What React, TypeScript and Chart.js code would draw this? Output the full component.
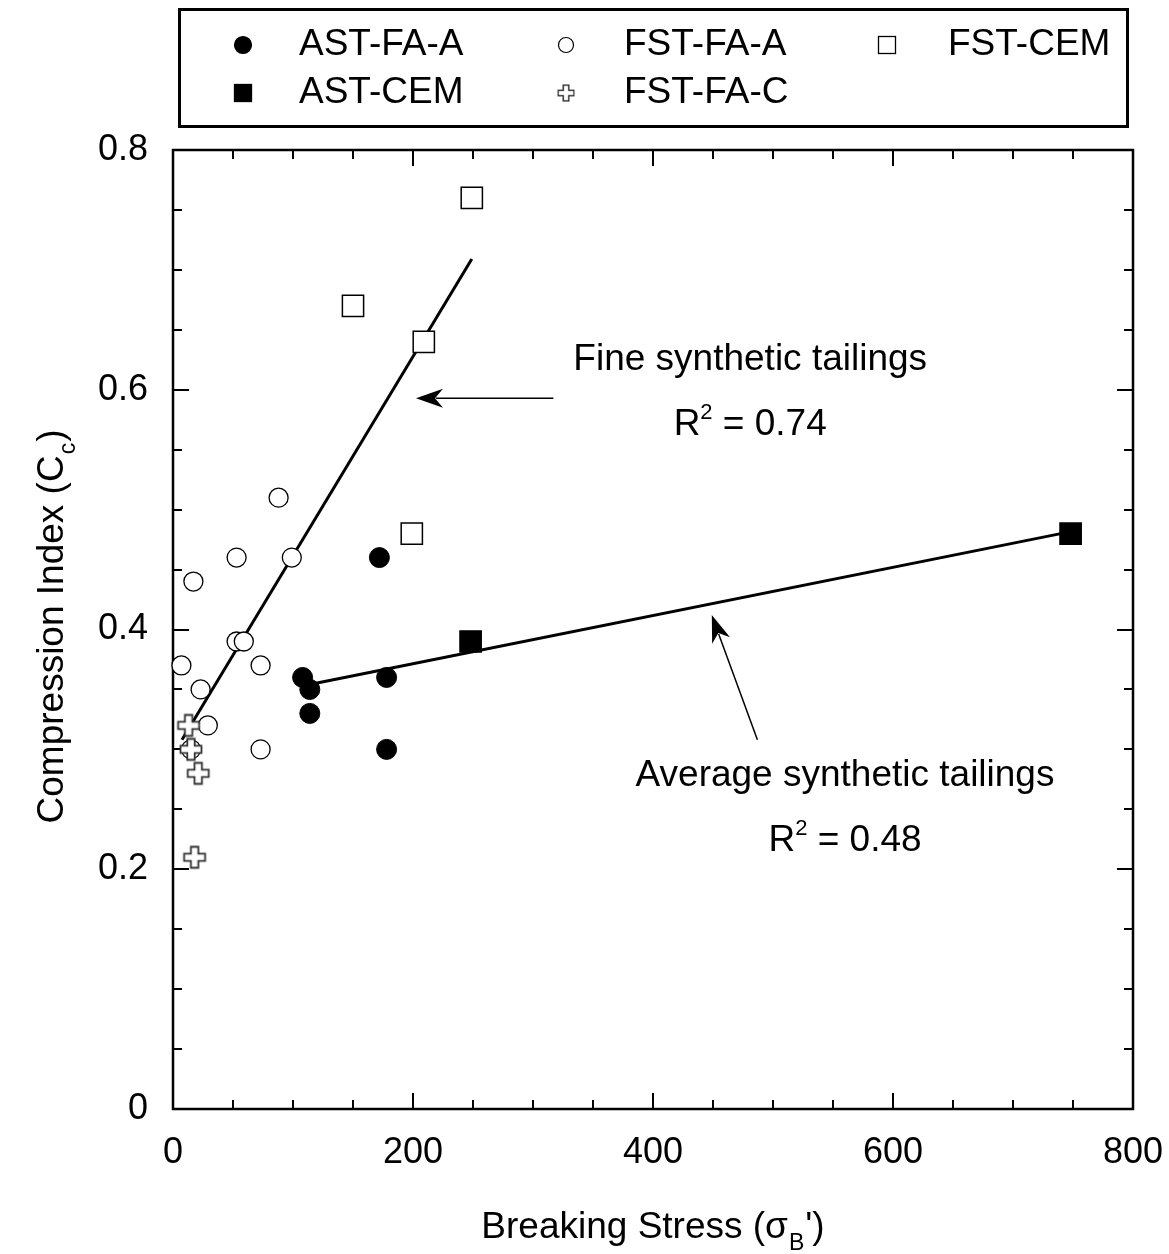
import React, { useEffect, useRef } from 'react';
import { Chart, registerables } from 'chart.js';

Chart.register(...registerables);

// ---------------- data ----------------
const astFaAX = [108, 114, 114, 178, 178, 172];
const astFaAY = [0.36, 0.35, 0.33, 0.36, 0.30, 0.46];

const astCemX = [248, 748];
const astCemY = [0.39, 0.48];

const fstFaAX = [7, 17, 23, 29, 53, 53, 59, 73, 73, 88, 99, 15];
const fstFaAY = [0.37, 0.44, 0.35, 0.32, 0.46, 0.39, 0.39, 0.37, 0.30, 0.51, 0.46, 0.30];

const fstFaCX = [13, 15, 21, 18];
const fstFaCY = [0.32, 0.30, 0.28, 0.21];

const fstCemX = [249, 150, 209, 199];
const fstCemY = [0.76, 0.67, 0.64, 0.48];

const fineFitX = [7.5, 249];
const fineFitY = [0.308, 0.709];

const avgFitX = [118, 745];
const avgFitY = [0.355, 0.481];

const xMin = 0, xMax = 800, xMajor = 200, xMinor = 50;
const yMin = 0, yMax = 0.8, yMajor = 0.2, yMinor = 0.05;

const xTitleMain = 'Breaking Stress (\u03C3';
const xTitleSub = 'B';
const xTitleEnd = "')";
const yTitleMain = 'Compression Index (C';
const yTitleSub = 'c';
const yTitleEnd = ')';

const fineLabel = 'Fine synthetic tailings';
const fineR2 = '0.74';
const avgLabel = 'Average synthetic tailings';
const avgR2 = '0.48';

// annotation anchors (data coordinates)
const fineTextPos = { x: 481, y: 0.625 };
const fineR2Pos = { x: 481, y: 0.573 };
const fineArrow = { x1: 317, y1: 0.593, x2: 202.5, y2: 0.593 };
const avgTextPos = { x: 560, y: 0.278 };
const avgR2Pos = { x: 560, y: 0.226 };
const avgArrow = { x1: 487, y1: 0.308, x2: 449, y2: 0.412 };

const FONT = '"Liberation Sans", Arial, Helvetica, sans-serif';

const mk = (xs: number[], ys: number[]) => xs.map((x, i) => ({ x, y: ys[i] }));

function makeCross(scale: number) {
  const c = document.createElement('canvas');
  const s = Math.round(26 * scale);
  c.width = s;
  c.height = s;
  const g = c.getContext('2d')!;
  const cx = s / 2, cy = s / 2;
  const a = 3.7 * scale, b = 10.5 * scale;
  const pts = [
    [-a, -b], [a, -b], [a, -a], [b, -a], [b, a], [a, a],
    [a, b], [-a, b], [-a, a], [-b, a], [-b, -a], [-a, -a],
  ];
  g.beginPath();
  pts.forEach(([px, py], i) => (i ? g.lineTo(cx + px, cy + py) : g.moveTo(cx + px, cy + py)));
  g.closePath();
  g.fillStyle = '#fff';
  g.fill();
  g.strokeStyle = '#333';
  g.lineWidth = 1.8;
  g.stroke();
  return c;
}

function drawArrowHead(ctx: CanvasRenderingContext2D, x1: number, y1: number, x2: number, y2: number) {
  const ang = Math.atan2(y2 - y1, x2 - x1);
  const L = 27, W = 9.5, N = 19;
  ctx.save();
  ctx.translate(x2, y2);
  ctx.rotate(ang);
  ctx.beginPath();
  ctx.moveTo(0, 0);
  ctx.lineTo(-L, -W);
  ctx.lineTo(-N, 0);
  ctx.lineTo(-L, W);
  ctx.closePath();
  ctx.fillStyle = '#000';
  ctx.fill();
  ctx.restore();
}

function drawR2(ctx: CanvasRenderingContext2D, val: string, cx: number, cy: number) {
  ctx.textBaseline = 'alphabetic';
  ctx.textAlign = 'left';
  ctx.font = `37px ${FONT}`;
  const wR = ctx.measureText('R').width;
  const rest = ' = ' + val;
  const wRest = ctx.measureText(rest).width;
  ctx.font = `22px ${FONT}`;
  const w2 = ctx.measureText('2').width;
  const total = wR + w2 + wRest;
  let x = cx - total / 2;
  const base = cy + 13;
  ctx.font = `37px ${FONT}`;
  ctx.fillText('R', x, base);
  x += wR;
  ctx.font = `22px ${FONT}`;
  ctx.fillText('2', x, base - 16);
  x += w2;
  ctx.font = `37px ${FONT}`;
  ctx.fillText(rest, x, base);
}

function drawTitleParts(ctx: CanvasRenderingContext2D, main: string, sub: string, end: string, cx: number, base: number) {
  ctx.textAlign = 'left';
  ctx.textBaseline = 'alphabetic';
  ctx.font = `37px ${FONT}`;
  const w1 = ctx.measureText(main).width;
  const w3 = ctx.measureText(end).width;
  ctx.font = `23px ${FONT}`;
  const w2 = ctx.measureText(sub).width;
  let x = cx - (w1 + w2 + w3 + 2) / 2;
  ctx.font = `37px ${FONT}`;
  ctx.fillText(main, x, base);
  x += w1 + 1;
  ctx.font = `23px ${FONT}`;
  ctx.fillText(sub, x, base + 12);
  x += w2 + 1;
  ctx.font = `37px ${FONT}`;
  ctx.fillText(end, x, base);
}

const framePlugin = {
  id: 'framePlugin',
  beforeDatasetsDraw(chart: any) {
    const { ctx, chartArea: ca, scales } = chart;
    const xs = scales.x, ys = scales.y;
    ctx.save();
    ctx.strokeStyle = '#000';
    ctx.lineWidth = 2;
    ctx.beginPath();
    const n = Math.round((xMax - xMin) / xMinor);
    for (let i = 0; i <= n; i++) {
      const v = xMin + i * xMinor;
      const major = Math.abs(v / xMajor - Math.round(v / xMajor)) < 1e-6;
      const len = major ? 16 : 9;
      const px = Math.round(xs.getPixelForValue(v));
      ctx.moveTo(px, ca.bottom);
      ctx.lineTo(px, ca.bottom - len);
      ctx.moveTo(px, ca.top);
      ctx.lineTo(px, ca.top + len);
    }
    const m = Math.round((yMax - yMin) / yMinor);
    for (let i = 0; i <= m; i++) {
      const v = yMin + i * yMinor;
      const major = Math.abs(v / yMajor - Math.round(v / yMajor)) < 1e-6;
      const len = major ? 16 : 9;
      const py = Math.round(ys.getPixelForValue(v));
      ctx.moveTo(ca.left, py);
      ctx.lineTo(ca.left + len, py);
      ctx.moveTo(ca.right, py);
      ctx.lineTo(ca.right - len, py);
    }
    ctx.stroke();
    ctx.lineWidth = 2.5;
    ctx.strokeRect(ca.left, ca.top, ca.right - ca.left, ca.bottom - ca.top);
    ctx.restore();
  },
  afterDraw(chart: any) {
    const { ctx, chartArea: ca, scales } = chart;
    const xs = scales.x, ys = scales.y;
    const X = (v: number) => xs.getPixelForValue(v);
    const Y = (v: number) => ys.getPixelForValue(v);
    ctx.save();
    ctx.fillStyle = '#000';
    ctx.strokeStyle = '#000';

    // axis titles
    drawTitleParts(ctx, xTitleMain, xTitleSub, xTitleEnd, (ca.left + ca.right) / 2, ca.bottom + 129);
    ctx.save();
    ctx.translate(63, (ca.top + ca.bottom) / 2 - 3);
    ctx.rotate(-Math.PI / 2);
    drawTitleParts(ctx, yTitleMain, yTitleSub, yTitleEnd, 0, 0);
    ctx.restore();

    // annotations
    ctx.font = `37px ${FONT}`;
    ctx.textAlign = 'center';
    ctx.textBaseline = 'middle';
    ctx.fillText(fineLabel, X(fineTextPos.x), Y(fineTextPos.y));
    ctx.fillText(avgLabel, X(avgTextPos.x), Y(avgTextPos.y));
    drawR2(ctx, fineR2, X(fineR2Pos.x), Y(fineR2Pos.y));
    drawR2(ctx, avgR2, X(avgR2Pos.x), Y(avgR2Pos.y));

    // arrows
    ctx.lineWidth = 1.5;
    for (const a of [fineArrow, avgArrow]) {
      const x1 = X(a.x1), y1 = Y(a.y1), x2 = X(a.x2), y2 = Y(a.y2);
      ctx.beginPath();
      ctx.moveTo(x1, y1);
      const ang = Math.atan2(y2 - y1, x2 - x1);
      ctx.lineTo(x2 - Math.cos(ang) * 20, y2 - Math.sin(ang) * 20);
      ctx.stroke();
      drawArrowHead(ctx, x1, y1, x2, y2);
    }

    // legend
    ctx.lineWidth = 3;
    ctx.strokeRect(179.5, 9.5, 948, 117);
    const colMarker = [243, 566, 887];
    const colText = [299, 624, 948];
    const rowY = [45, 93];
    const layout = [
      { i: 0, c: 0, r: 0 },
      { i: 1, c: 1, r: 0 },
      { i: 2, c: 2, r: 0 },
      { i: 3, c: 0, r: 1 },
      { i: 4, c: 1, r: 1 },
    ];
    for (const it of layout) {
      const ds = chart.data.datasets[it.i];
      const mx = colMarker[it.c], my = rowY[it.r];
      ctx.save();
      if (ds.pointStyle === 'circle') {
        const r = ds.backgroundColor === '#000' ? 8.5 : 7.5;
        ctx.beginPath();
        ctx.arc(mx, my, r, 0, Math.PI * 2);
        ctx.fillStyle = ds.backgroundColor;
        ctx.fill();
        ctx.lineWidth = 1.2;
        ctx.strokeStyle = '#000';
        ctx.stroke();
      } else if (ds.pointStyle === 'rect') {
        const s = 8.5;
        ctx.fillStyle = ds.backgroundColor;
        ctx.fillRect(mx - s, my - s, 2 * s, 2 * s);
        ctx.lineWidth = 1.3;
        ctx.strokeStyle = '#000';
        ctx.strokeRect(mx - s, my - s, 2 * s, 2 * s);
      } else {
        const img = ds.pointStyle as HTMLCanvasElement;
        const w = img.width * 0.75, h = img.height * 0.75;
        ctx.drawImage(img, mx - w / 2, my - h / 2, w, h);
      }
      ctx.restore();
      ctx.font = `37px ${FONT}`;
      ctx.textAlign = 'left';
      ctx.textBaseline = 'middle';
      ctx.fillStyle = '#000';
      ctx.fillText(ds.label, colText[it.c], my);
    }
    ctx.restore();
  },
};

export default function App() {
  const ref = useRef<HTMLCanvasElement>(null);
  useEffect(() => {
    const cross = makeCross(1);
    const pointCommon = { showLine: false, clip: false as any, pointHoverRadius: 0 };
    const zeroPad = (s: any) => {
      s.paddingLeft = 0;
      s.paddingRight = 0;
      s.paddingTop = 0;
      s.paddingBottom = 0;
    };
    const chart = new Chart(ref.current!, {
      type: 'scatter',
      data: {
        datasets: [
          {
            ...pointCommon,
            label: 'AST-FA-A',
            data: mk(astFaAX, astFaAY),
            pointStyle: 'circle',
            pointRadius: 10,
            backgroundColor: '#000',
            borderColor: '#000',
            borderWidth: 1,
            order: 1,
          },
          {
            ...pointCommon,
            label: 'FST-FA-A',
            data: mk(fstFaAX, fstFaAY),
            pointStyle: 'circle',
            pointRadius: 9.5,
            backgroundColor: '#fff',
            borderColor: '#000',
            borderWidth: 1.3,
            order: 3,
          },
          {
            ...pointCommon,
            label: 'FST-CEM',
            data: mk(fstCemX, fstCemY),
            pointStyle: 'rect',
            pointRadius: 15,
            backgroundColor: '#fff',
            borderColor: '#000',
            borderWidth: 1.5,
            order: 1,
          },
          {
            ...pointCommon,
            label: 'AST-CEM',
            data: mk(astCemX, astCemY),
            pointStyle: 'rect',
            pointRadius: 15,
            backgroundColor: '#000',
            borderColor: '#000',
            borderWidth: 1.5,
            order: 1,
          },
          {
            ...pointCommon,
            label: 'FST-FA-C',
            data: mk(fstFaCX, fstFaCY),
            pointStyle: cross as any,
            pointRadius: 10,
            backgroundColor: '#fff',
            borderColor: '#333',
            order: 2,
          },
          {
            label: 'Fine fit',
            data: mk(fineFitX, fineFitY),
            showLine: true,
            pointRadius: 0,
            pointHoverRadius: 0,
            borderColor: '#000',
            borderWidth: 3,
            order: 10,
          },
          {
            label: 'Average fit',
            data: mk(avgFitX, avgFitY),
            showLine: true,
            pointRadius: 0,
            pointHoverRadius: 0,
            borderColor: '#000',
            borderWidth: 3,
            order: 10,
          },
        ] as any,
      },
      options: {
        responsive: false,
        animation: false,
        devicePixelRatio: 1,
        events: [],
        layout: { padding: { top: 150, right: 36, left: 0, bottom: 0 } },
        plugins: { legend: { display: false }, tooltip: { enabled: false } },
        scales: {
          x: {
            type: 'linear',
            position: 'bottom',
            min: xMin,
            max: xMax,
            afterFit: (s: any) => { s.height = 145; zeroPad(s); },
            grid: { display: false, drawTicks: false, tickLength: 0 },
            border: { display: false },
            ticks: {
              stepSize: xMajor,
              padding: 22,
              color: '#000',
              font: { family: FONT, size: 36 },
              maxRotation: 0,
            },
          },
          y: {
            type: 'linear',
            min: yMin,
            max: yMax,
            afterFit: (s: any) => { s.width = 173; zeroPad(s); },
            grid: { display: false, drawTicks: false, tickLength: 0 },
            border: { display: false },
            ticks: {
              stepSize: yMajor,
              padding: 25,
              color: '#000',
              font: { family: FONT, size: 36 },
            },
          },
        },
      } as any,
      plugins: [framePlugin],
    });
    return () => chart.destroy();
  }, []);
  return (
    <div style={{ position: 'absolute', left: 0, top: 0, width: 1169, height: 1254, background: '#fff' }}>
      <canvas ref={ref} width={1169} height={1254} style={{ display: 'block' }} />
    </div>
  );
}
